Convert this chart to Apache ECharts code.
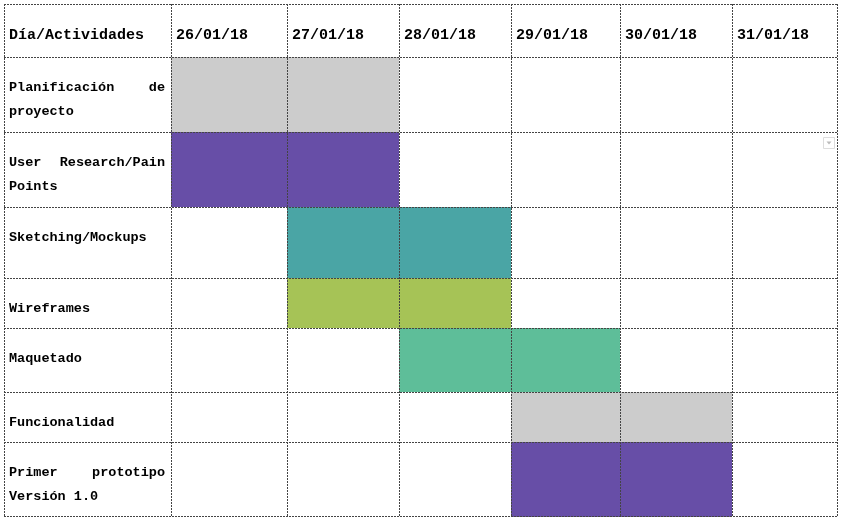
<!DOCTYPE html>
<html>
<head>
<meta charset="utf-8">
<script src="https://cdn.jsdelivr.net/npm/echarts@6/dist/echarts.min.js"></script>
<style>
  html, body { margin: 0; padding: 0; background: #fff; }
  #chart { width: 843px; height: 521px; }
</style>
</head>
<body>
<div id="chart"></div>
<script>
// datos del cronograma
var headerLabel = 'Día/Actividades';
var days = ['26/01/18', '27/01/18', '28/01/18', '29/01/18', '30/01/18', '31/01/18'];
var activities = [
    'Planificación de proyecto',
    'User Research/Pain Points',
    'Sketching/Mockups',
    'Wireframes',
    'Maquetado',
    'Funcionalidad',
    'Primer prototipo Versión 1.0'
];
var startDay = [0, 0, 1, 1, 2, 3, 3];
var endDay = [1, 1, 2, 2, 3, 4, 4];

// estilo / maquetación
var taskColors = ['#cccccc', '#674ea7', '#4aa5a5', '#a6c356', '#5ebe99', '#cccccc', '#674ea7'];
var colWidths = [167, 116, 112, 112, 109, 112, 106];
var rowHeights = [53, 75, 75, 71, 50, 64, 50, 75];

function edges(sizes) {
    var out = [0];
    sizes.forEach(function (s) { out.push(out[out.length - 1] + s); });
    return out;
}
var colEdges = edges(colWidths);
var rowEdges = edges(rowHeights);
var totalW = colEdges[colEdges.length - 1];
var totalH = rowEdges[rowEdges.length - 1];

var FONT = '"Liberation Mono", "Courier New", monospace';

// parte el texto en lineas de maxChars caracteres
function wrap(text, maxChars) {
    var words = text.split(' '), lines = [], cur = '';
    words.forEach(function (w) {
        if (cur && (cur + ' ' + w).length > maxChars) {
            lines.push(cur);
            cur = w;
        } else {
            cur = cur ? cur + ' ' + w : w;
        }
    });
    if (cur) lines.push(cur);
    return lines;
}

var chart = echarts.init(document.getElementById('chart'));

var option = {
    backgroundColor: '#ffffff',
    animation: false,
    grid: { left: 4, top: 4, right: 5, bottom: 4 },
    xAxis: { type: 'value', min: 0, max: totalW, show: false },
    yAxis: { type: 'value', min: 0, max: totalH, inverse: true, show: false },
    graphic: [{
        type: 'group',
        right: 8,
        top: 137,
        children: [
            { type: 'rect', shape: { x: 0, y: 0, width: 11, height: 11 },
              style: { fill: '#fff', stroke: '#dddddd', lineWidth: 1 } },
            { type: 'polygon', shape: { points: [[3, 4], [8, 4], [5.5, 7]] },
              style: { fill: '#bbbbbb' } }
        ]
    }],
    series: [
        {
            // celdas coloreadas
            type: 'custom',
            z: 1,
            data: activities.map(function (a, i) { return [i, startDay[i], endDay[i]]; }),
            renderItem: function (params, api) {
                var row = api.value(0), s = api.value(1), e = api.value(2);
                var p0 = api.coord([colEdges[s + 1], rowEdges[row + 1]]);
                var p1 = api.coord([colEdges[e + 2], rowEdges[row + 2]]);
                return {
                    type: 'rect',
                    shape: { x: p0[0], y: p0[1], width: p1[0] - p0[0], height: p1[1] - p0[1] },
                    style: { fill: taskColors[row] }
                };
            }
        },
        {
            // cuadricula punteada
            type: 'custom',
            z: 2,
            data: [0],
            renderItem: function (params, api) {
                var children = [];
                var topL = api.coord([0, 0]), botR = api.coord([totalW, totalH]);
                var crisp = function (v, last) { return Math.round(v) + (last ? -0.5 : 0.5); };
                colEdges.forEach(function (c, i) {
                    var x = crisp(api.coord([c, 0])[0], i === colEdges.length - 1);
                    children.push({
                        type: 'line',
                        shape: { x1: x, y1: topL[1], x2: x, y2: botR[1] },
                        style: { stroke: '#444444', lineWidth: 1, lineDash: [2, 1] }
                    });
                });
                rowEdges.forEach(function (r, i) {
                    var y = crisp(api.coord([0, r])[1], i === rowEdges.length - 1);
                    children.push({
                        type: 'line',
                        shape: { x1: topL[0], y1: y, x2: botR[0], y2: y },
                        style: { stroke: '#444444', lineWidth: 1, lineDash: [2, 1] }
                    });
                });
                return { type: 'group', children: children };
            }
        },
        {
            // textos: cabecera y actividades
            type: 'custom',
            z: 3,
            data: [headerLabel].concat(activities).map(function (t, i) { return [i]; }),
            renderItem: function (params, api) {
                var row = api.value(0);
                var children = [];
                var top = api.coord([0, rowEdges[row]])[1];
                var left = api.coord([colEdges[0], 0])[0];
                var right = api.coord([colEdges[1], 0])[0];
                if (row === 0) {
                    children.push({
                        type: 'text',
                        x: left + 5, y: top + 31,
                        style: { text: headerLabel, fontFamily: FONT, fontWeight: 'bold', fontSize: 15,
                                 fill: '#000', align: 'left', verticalAlign: 'middle' }
                    });
                    days.forEach(function (d, j) {
                        var cx = api.coord([colEdges[j + 1], 0])[0];
                        children.push({
                            type: 'text',
                            x: cx + 5, y: top + 31,
                            style: { text: d, fontFamily: FONT, fontWeight: 'bold', fontSize: 15,
                                     fill: '#000', align: 'left', verticalAlign: 'middle' }
                        });
                    });
                } else {
                    var lines = wrap(activities[row - 1], 18);
                    lines.forEach(function (ln, k) {
                        var y = top + 30.5 + k * 24;
                        var words = ln.split(' ');
                        var justify = k < lines.length - 1 && words.length > 1;
                        var base = { fontFamily: FONT, fontWeight: 'bold', fontSize: 13.5,
                                     fill: '#000', verticalAlign: 'middle' };
                        if (justify) {
                            children.push({ type: 'text', x: left + 5, y: y,
                                style: Object.assign({ text: words[0], align: 'left' }, base) });
                            children.push({ type: 'text', x: right - 6, y: y,
                                style: Object.assign({ text: words.slice(1).join(' '), align: 'right' }, base) });
                        } else {
                            children.push({ type: 'text', x: left + 5, y: y,
                                style: Object.assign({ text: ln, align: 'left' }, base) });
                        }
                    });
                }
                return { type: 'group', children: children };
            }
        }
    ]
};

chart.setOption(option);
</script>
</body>
</html>
